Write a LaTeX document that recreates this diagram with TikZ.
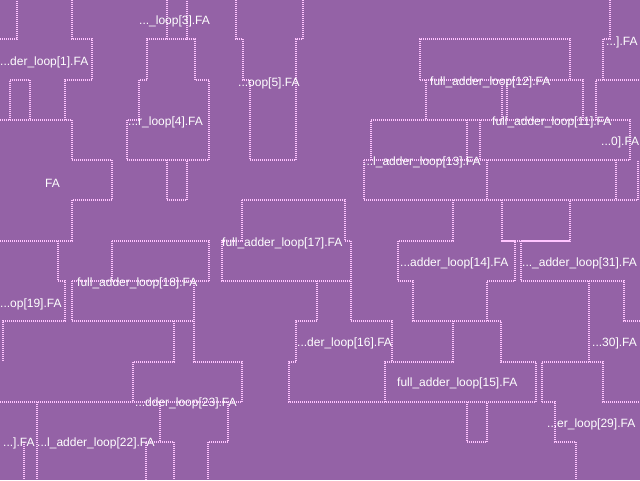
\documentclass[tikz,border=0pt]{standalone}
\usepackage{fontspec}
\setmainfont{Liberation Sans}
\definecolor{bgpurple}{RGB}{148,98,166}
\definecolor{wirepink}{RGB}{255,196,255}
\tikzset{
  wire/.style={draw=wirepink, line width=1.1pt, dash pattern=on 1pt off 1pt},
  lbl/.style={text=white, anchor=west, inner sep=0pt, font=\fontsize{12}{12}\selectfont}
}
\begin{document}
\begin{tikzpicture}[x=1pt,y=-1pt]
\fill[bgpurple] (0,0) rectangle (640,480);
\useasboundingbox (0,0) rectangle (640,480);
\begin{scope}
\clip (0,0) rectangle (640,480);
% top-left
\draw[wire] (0,39) -- (17,39) -- (17,0);
\draw[wire] (72,0) -- (72,39) -- (92,39) -- (92,80) -- (65,80) -- (65,120);
\draw[wire] (0,120) -- (72,120) -- (72,160) -- (112,160) -- (112,200) -- (72,200) -- (72,241) -- (0,241);
\draw[wire] (10,120) -- (10,80) -- (30,80) -- (30,120);
\draw[wire] (167,0) -- (167,39) -- (147,39) -- (147,80) -- (139,80) -- (139,120) -- (127,120) -- (127,160) -- (209,160) -- (209,80) -- (195,80) -- (195,39) -- (187,39) -- (187,0);
\draw[wire] (167,39) -- (187,39);
\draw[wire] (167,160) -- (167,200) -- (187,200) -- (187,160);
\draw[wire] (236,0) -- (236,39) -- (243,39) -- (243,80) -- (250,80) -- (250,160) -- (296,160) -- (296,39) -- (303,39) -- (303,0);
% top-right
\draw[wire] (420,80) -- (420,39) -- (570,39) -- (570,80);
\draw[wire] (420,80) -- (583,80) -- (583,120);
\draw[wire] (426,80) -- (426,120);
\draw[wire] (502,80) -- (502,120);
\draw[wire] (507,80) -- (507,120);
\draw[wire] (610,0) -- (610,39) -- (603,39) -- (603,80);
\draw[wire] (596,120) -- (596,80) -- (640,80);
\draw[wire] (371,160) -- (371,120) -- (630,120) -- (630,160);
\draw[wire] (467,120) -- (467,160);
\draw[wire] (480,120) -- (480,160);
\draw[wire] (364,160) -- (630,160);
\draw[wire] (364,160) -- (364,200) -- (638,200) -- (638,160);
\draw[wire] (487,160) -- (487,200);
\draw[wire] (616,160) -- (616,200);
% middle
\draw[wire] (453,200) -- (453,241) -- (398,241) -- (398,281) -- (413,281) -- (413,321) -- (502,321);
\draw[wire] (487,321) -- (487,281) -- (515,281) -- (515,241) -- (502,241);
\draw[wire] (502,200) -- (502,241) -- (570,241) -- (570,200);
\draw[wire] (569,241) -- (521,241) -- (521,281) -- (624,281) -- (624,321) -- (640,321);
\draw[wire] (242,200) -- (345,200) -- (345,241) -- (351,241) -- (351,321) -- (392,321) -- (392,362);
\draw[wire] (242,200) -- (242,241) -- (222,241) -- (222,281) -- (351,281);
\draw[wire] (317,281) -- (317,321) -- (296,321) -- (296,362) -- (289,362) -- (289,402) -- (536,402) -- (536,362) -- (501,362) -- (501,321);
\draw[wire] (453,321) -- (453,362) -- (385,362) -- (385,402);
\draw[wire] (589,281) -- (589,362);
\draw[wire] (542,402) -- (542,362) -- (603,362) -- (603,402) -- (640,402);
\draw[wire] (542,402) -- (555,402) -- (555,442) -- (576,442) -- (576,480);
\draw[wire] (467,402) -- (467,442) -- (487,442) -- (487,402);
% left middle
\draw[wire] (58,241) -- (58,281) -- (65,281) -- (65,321) -- (3,321) -- (3,362);
\draw[wire] (112,241) -- (209,241) -- (209,281);
\draw[wire] (112,241) -- (112,281);
\draw[wire] (72,281) -- (209,281);
\draw[wire] (72,281) -- (72,321) -- (194,321);
\draw[wire] (174,321) -- (174,362) -- (133,362) -- (133,402);
\draw[wire] (194,281) -- (194,362) -- (242,362) -- (242,402);
% bottom-left
\draw[wire] (0,402) -- (242,402);
\draw[wire] (37,402) -- (37,480);
\draw[wire] (24,442) -- (24,480);
\draw[wire] (228,402) -- (228,442) -- (208,442) -- (208,480);
\draw[wire] (160,402) -- (160,442);
\draw[wire] (146,480) -- (146,442) -- (174,442) -- (174,480);
\end{scope}
% labels
\node[lbl] (l3)  at (139,21)  {...\_loop[3].FA};
\node[lbl] (l1)  at (0,62)    {...der\_loop[1].FA};
\node[lbl] (l4)  at (128,122) {...r\_loop[4].FA};
\node[lbl] (l5)  at (238,83)  {...oop[5].FA};
\node[lbl] (l12) at (430,82)  {full\_adder\_loop[12].FA};
\node[lbl] (l11) at (492,122) {full\_adder\_loop[11].FA};
\node[lbl] (lx1) at (606,42)  {...].FA};
\node[lbl] (l0)  at (601,142) {...0].FA};
\node[lbl] (l13) at (363,162) {...l\_adder\_loop[13].FA};
\node[lbl] (lfa) at (45,183)  {FA};
\node[lbl] (l17) at (222,243) {full\_adder\_loop[17].FA};
\node[lbl] (l14) at (400,263) {...adder\_loop[14].FA};
\node[lbl] (l31) at (522,263) {...\_adder\_loop[31].FA};
\node[lbl] (l18) at (77,283)  {full\_adder\_loop[18].FA};
\node[lbl] (l19) at (0,304)   {...op[19].FA};
\node[lbl] (l16) at (297,343) {...der\_loop[16].FA};
\node[lbl] (l30) at (592,343) {...30].FA};
\node[lbl] (l15) at (397,383) {full\_adder\_loop[15].FA};
\node[lbl] (l23) at (135,403) {...dder\_loop[23].FA};
\node[lbl] (lx2) at (3,443)   {...].FA};
\node[lbl] (l22) at (37,443)  {...l\_adder\_loop[22].FA};
\node[lbl] (l29) at (547,424) {...er\_loop[29].FA};
\end{tikzpicture}
\end{document}
